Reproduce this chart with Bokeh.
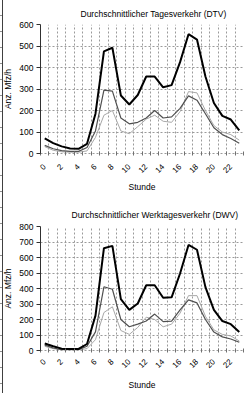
from bokeh.plotting import figure
from bokeh.models import FixedTicker, Range1d
from bokeh.layouts import column
from bokeh.embed import file_html
from bokeh.resources import INLINE
import math

hours = list(range(24))
tick_hours = list(range(0, 24, 2))
tick_labels = {h: str(h) for h in tick_hours}

dtv_title = "Durchschnittlicher Tagesverkehr (DTV)"
dtv_total = [70, 48, 33, 23, 22, 45, 185, 475, 492, 270, 228, 272, 358, 358, 308, 318, 425, 555, 530, 358, 235, 175, 158, 108]
dtv_mid = [38, 22, 13, 10, 10, 28, 105, 295, 290, 165, 138, 145, 165, 200, 165, 170, 210, 268, 248, 185, 120, 88, 70, 48]
dtv_light = [32, 15, 8, 6, 6, 12, 75, 178, 200, 105, 92, 125, 160, 178, 150, 145, 195, 288, 282, 200, 130, 100, 88, 62]

dwv_title = "Durchschnittlicher Werktagesverkehr (DWV)"
dwv_total = [45, 27, 12, 10, 10, 42, 225, 660, 675, 332, 262, 303, 421, 421, 340, 343, 497, 681, 650, 409, 262, 190, 170, 119]
dwv_mid = [35, 16, 6, 6, 6, 27, 120, 411, 395, 200, 153, 170, 190, 235, 186, 190, 262, 327, 307, 200, 119, 88, 74, 53]
dwv_light = [27, 12, 4, 4, 4, 12, 70, 245, 282, 129, 104, 149, 215, 200, 153, 170, 241, 354, 354, 221, 133, 104, 94, 61]

x_label = "Stunde"
y_label = "Anz. Mfz/h"
FONT = "Liberation Sans"


def make_chart(title, ymax, total, mid, light, height, border_top, border_bottom,
               title_offset, title_standoff, label_standoff, axis_standoff):
    p = figure(width=245, height=height,
               x_range=Range1d(-0.5, 23.5), y_range=Range1d(0, ymax),
               output_backend="svg", toolbar_location=None,
               min_border_left=39, min_border_right=2,
               min_border_top=border_top, min_border_bottom=border_bottom)
    p.outline_line_color = None
    p.background_fill_color = "white"
    p.border_fill_color = None

    p.title.text = title
    p.title.align = "left"
    p.title.text_font = FONT
    p.title.text_font_size = "8.5px"
    p.title.text_font_style = "normal"
    p.title.text_color = "black"
    p.title.offset = title_offset
    p.title.standoff = title_standoff

    boundaries = [h - 0.5 for h in range(25)]
    p.xgrid.ticker = FixedTicker(ticks=boundaries)
    p.ygrid.ticker = FixedTicker(ticks=list(range(0, ymax + 1, 100)))
    for g in (p.xgrid, p.ygrid):
        g.grid_line_color = "#9a9a9a"
        g.grid_line_dash = "2 2"
        g.grid_line_width = 1

    xa = p.xaxis[0]
    xa.ticker = FixedTicker(ticks=tick_hours, minor_ticks=boundaries)
    xa.major_label_overrides = tick_labels
    xa.major_label_orientation = math.pi / 4
    xa.major_tick_line_color = None
    xa.minor_tick_in = 2
    xa.minor_tick_out = 2
    xa.minor_tick_line_color = "#707070"
    xa.axis_line_color = "#9a9a9a"
    xa.axis_line_dash = "2 2"
    xa.major_label_text_font = FONT
    xa.major_label_text_font_size = "8px"
    xa.major_label_text_color = "black"
    xa.major_label_standoff = label_standoff
    xa.axis_label = x_label
    xa.axis_label_text_font = FONT
    xa.axis_label_text_font_size = "8.5px"
    xa.axis_label_text_font_style = "normal"
    xa.axis_label_text_color = "black"
    xa.axis_label_standoff = axis_standoff

    ya = p.yaxis[0]
    ya.ticker = FixedTicker(ticks=list(range(0, ymax + 1, 100)))
    ya.minor_tick_line_color = None
    ya.major_tick_in = 0
    ya.major_tick_out = 4
    ya.major_tick_line_color = "#303030"
    ya.axis_line_color = "#303030"
    ya.major_label_text_font = FONT
    ya.major_label_text_font_size = "8.5px"
    ya.major_label_text_color = "black"
    ya.major_label_standoff = 3
    ya.axis_label = y_label
    ya.axis_label_text_font = FONT
    ya.axis_label_text_font_size = "8.5px"
    ya.axis_label_text_font_style = "normal"
    ya.axis_label_text_color = "black"
    ya.axis_label_standoff = 3

    p.line(hours, light, line_color="#a8a8a8", line_width=1)
    p.line(hours, mid, line_color="#505050", line_width=1.2)
    p.line(hours, total, line_color="black", line_width=2)
    return p


p1 = make_chart(dtv_title, 600, dtv_total, dtv_mid, dtv_light,
                195, 24, 41, 40, 11, 6, 4)
p2 = make_chart(dwv_title, 800, dwv_total, dwv_mid, dwv_light,
                198, 31, 37, 31, 13, 4, 7)

edge_style = {
    "background-color": "white",
    "background-image": ("linear-gradient(to right, transparent 2px, #404040 2px, #404040 3px, transparent 3px), "
                         "repeating-linear-gradient(to bottom, transparent 0px, transparent 15px, #909090 15px, #909090 16px)"),
    "background-size": "100% 100%, 2px 100%",
    "background-repeat": "no-repeat",
}

layout = column(p1, p2, spacing=0, styles=edge_style)
open("out.html", "w").write(file_html(layout, INLINE))
